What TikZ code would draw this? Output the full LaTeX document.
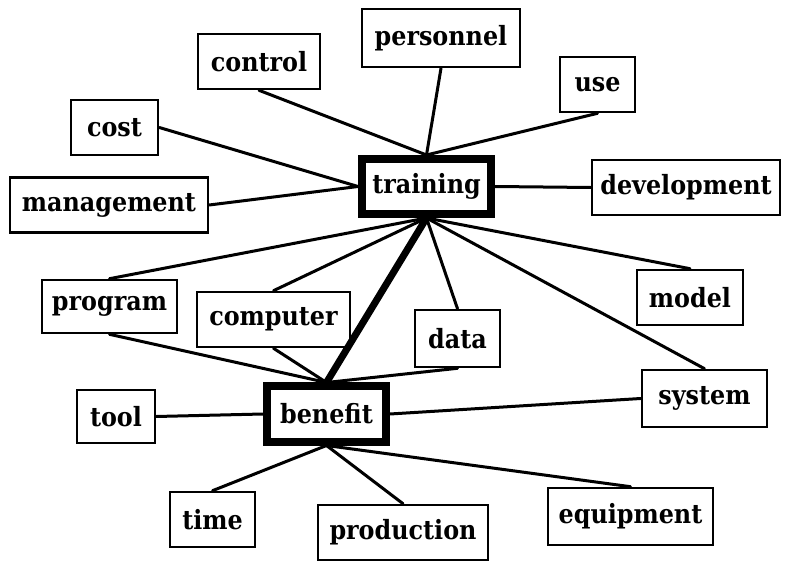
\documentclass[tikz,border=0pt]{standalone}
\usepackage{fontspec}
\setmainfont{DejaVu Serif Condensed}[BoldFont={DejaVu Serif Condensed Bold}]
\usepackage{tikz}

\begin{document}
\begin{tikzpicture}[x=1pt,y=-1pt,
 concept/.style={draw,line width=2.6pt,inner sep=2pt,minimum height=55pt,
   font=\fontsize{26.5}{30}\selectfont\bfseries},
 core/.style={concept,line width=8pt,minimum height=55pt},
 link/.style={line width=3pt,line cap=round},
 mainlink/.style={line width=7pt}]
\useasboundingbox (0,0) rectangle (785,561);
% the two central concepts
\node[core,minimum width=129pt] (training) at (426.5,186.5) {training};
\node[core,minimum width=119pt] (benefit) at (326.5,414) {benefit};
% concepts around training
\node[concept,minimum width=122pt] (control) at (259,61.5) {control};
\node[concept,minimum width=158pt,minimum height=58pt] (personnel) at (441,38) {personnel};
\node[concept,minimum width=75pt] (use) at (597.5,84.5) {use};
\node[concept,minimum width=87pt] (cost) at (114.5,127.5) {cost};
\node[concept,minimum width=198pt] (management) at (109,205) {management};
\node[concept,minimum width=188pt] (development) at (686,187.5) {development};
\node[concept,minimum width=135pt,minimum height=53pt] (program) at (109.5,306.5) {program};
\node[concept,minimum width=153pt] (computer) at (273.5,319.5) {computer};
\node[concept,minimum width=85pt,minimum height=57pt] (data) at (457.5,338.5) {data};
\node[concept,minimum width=106pt] (model) at (690,297.5) {model};
\node[concept,minimum width=125pt,minimum height=57pt] (system) at (704.5,398.5) {system};
% concepts around benefit
\node[concept,minimum width=78pt,minimum height=53pt] (tool) at (116,416.5) {tool};
\node[concept,minimum width=85pt] (time) at (212.5,519.5) {time};
\node[concept,minimum width=170pt] (production) at (403,532.5) {production};
\node[concept,minimum width=165pt,minimum height=57pt] (equipment) at (630.5,516.5) {equipment};
% links
\draw[link] (control.south) -- (training.north);
\draw[link] (personnel.south) -- (training.north);
\draw[link] (use.south) -- (training.north);
\draw[link] (cost.east) -- (training.west);
\draw[link] (management.east) -- (training.west);
\draw[link] (training.east) -- (development.west);
\draw[link] (training.south) -- (program.north);
\draw[link] (training.south) -- (computer.north);
\draw[link] (training.south) -- (data.north);
\draw[link] (training.south) -- (model.north);
\draw[link] (training.south) -- (system.north);
\draw[mainlink] (training.south) -- (benefit.north);
\draw[link] (program.south) -- (benefit.north);
\draw[link] (computer.south) -- (benefit.north);
\draw[link] (data.south) -- (benefit.north);
\draw[link] (tool.east) -- (benefit.west);
\draw[link] (benefit.east) -- (system.west);
\draw[link] (benefit.south) -- (time.north);
\draw[link] (benefit.south) -- (production.north);
\draw[link] (benefit.south) -- (equipment.north);
\end{tikzpicture}
\end{document}
